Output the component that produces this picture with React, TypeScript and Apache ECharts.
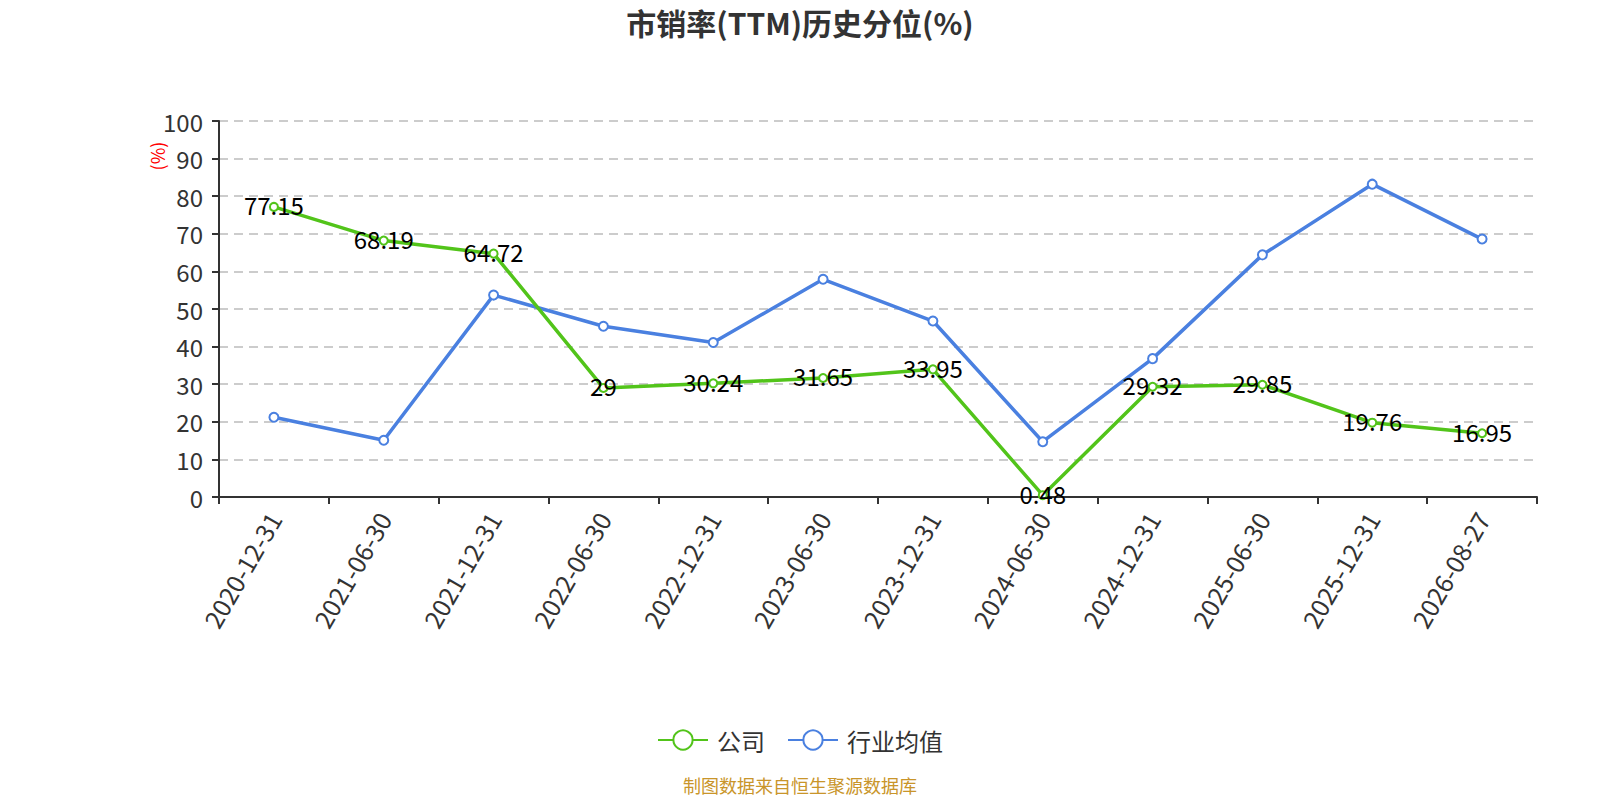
import React, { useEffect, useRef } from "react";
import * as echarts from "echarts";

const categories = [
  "2020-12-31", "2021-06-30", "2021-12-31", "2022-06-30", "2022-12-31", "2023-06-30",
  "2023-12-31", "2024-06-30", "2024-12-31", "2025-06-30", "2025-12-31", "2026-08-27",
];
const companyValues = [77.15, 68.19, 64.72, 29, 30.24, 31.65, 33.95, 0.48, 29.32, 29.85, 19.76, 16.95];
const industryValues = [21.2, 15.1, 53.7, 45.4, 41.1, 57.9, 46.8, 14.7, 36.8, 64.4, 83.2, 68.6];
const yTicks = { min: 0, max: 100, interval: 10 };

const FONT = "'Noto Sans CJK SC', 'Noto Sans', sans-serif";

export default function App() {
  const ref = useRef<HTMLDivElement>(null);
  useEffect(() => {
    document.body.style.margin = "0";
    document.body.style.overflow = "hidden";
    if (!ref.current) return;
    const chart = echarts.init(ref.current, undefined, { renderer: "svg" });
    chart.setOption({
      animation: false,
      textStyle: { fontFamily: FONT },
      title: {
        text: "市销率(TTM)历史分位(%)",
        left: "center",
        top: 2,
        textStyle: { fontSize: 30, fontWeight: "bold", color: "#333", fontFamily: FONT },
      },
      grid: { left: 219, right: 63, top: 121, bottom: 303, containLabel: false },
      legend: {
        top: 723,
        left: "center",
        itemWidth: 50,
        itemHeight: 24,
        itemGap: 22,
        textStyle: { fontSize: 24, color: "#333", fontFamily: FONT, padding: [0, 0, 0, 4] },
        data: ["公司", "行业均值"],
      },
      xAxis: {
        type: "category",
        data: categories,
        boundaryGap: true,
        axisLine: { lineStyle: { color: "#333", width: 2 } },
        axisTick: { show: true, length: 7, lineStyle: { color: "#333", width: 2 } },
        axisLabel: { rotate: 60, fontSize: 25, color: "#333", margin: 17, fontFamily: FONT },
      },
      yAxis: {
        type: "value",
        min: yTicks.min,
        max: yTicks.max,
        interval: yTicks.interval,
        axisLine: { show: true, lineStyle: { color: "#333", width: 2 } },
        axisTick: { show: true, length: 7, lineStyle: { color: "#333", width: 2 } },
        axisLabel: { fontSize: 24, color: "#333", margin: 16, fontFamily: FONT },
        splitLine: { show: true, lineStyle: { color: "#ccc", type: [9, 6], width: 2 } },
      },
      graphic: [
        {
          type: "text",
          x: 157,
          y: 156,
          rotation: Math.PI / 2,
          style: {
            text: "(%)",
            fill: "red",
            fontSize: 18,
            fontFamily: FONT,
            align: "center",
            verticalAlign: "middle",
          },
        },
        {
          type: "text",
          left: "center",
          top: 776,
          style: { text: "制图数据来自恒生聚源数据库", fill: "#c9952a", fontSize: 18, fontFamily: FONT },
        },
      ],
      series: [
        {
          name: "公司",
          type: "line",
          data: companyValues,
          symbol: "emptyCircle",
          symbolSize: 8,
          itemStyle: { color: "#52c41a", borderWidth: 2 },
          lineStyle: { width: 3.5, color: "#52c41a" },
          label: { show: true, position: "inside", offset: [0, -2], fontSize: 24, color: "#000", fontFamily: FONT },
          z: 3,
        },
        {
          name: "行业均值",
          type: "line",
          data: industryValues,
          symbol: "emptyCircle",
          symbolSize: 9,
          itemStyle: { color: "#4a80e0", borderWidth: 2 },
          lineStyle: { width: 3.5, color: "#4a80e0" },
          z: 2,
        },
      ],
    });
    return () => chart.dispose();
  }, []);
  return <div ref={ref} style={{ width: 1600, height: 800 }} />;
}
